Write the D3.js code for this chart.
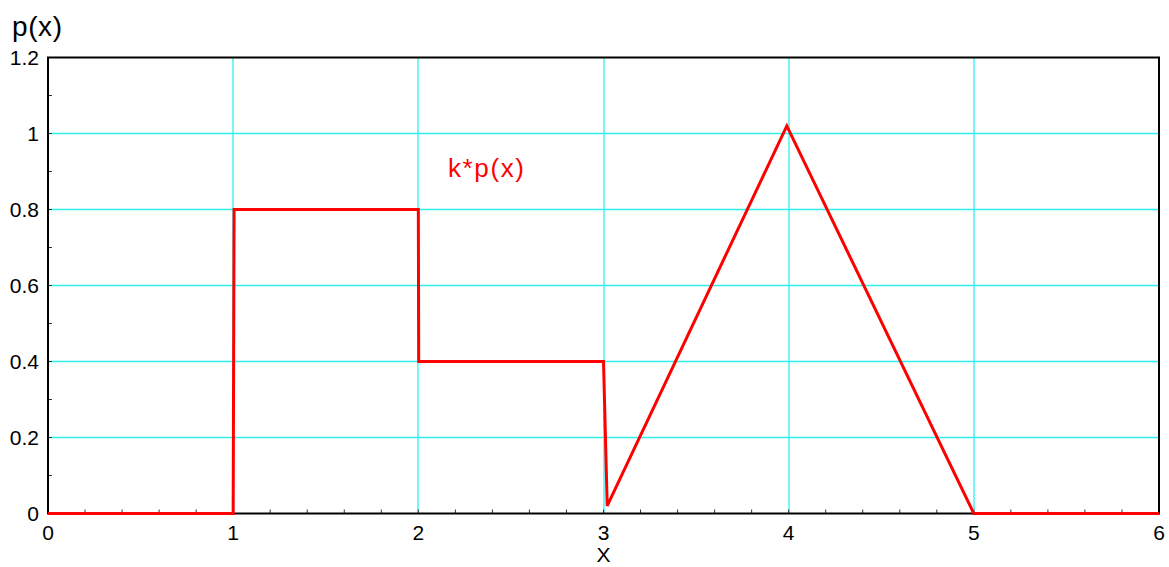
<!DOCTYPE html>
<html>
<head>
<meta charset="utf-8">
<script src="https://cdn.jsdelivr.net/npm/d3@7"></script>
<style>
  body { margin: 0; background: #fff; }
  text { font-family: "Liberation Sans", Arial, sans-serif; }
</style>
</head>
<body>
<div id="chart"></div>
<script>
// data
const xs = [0, 1, 1.005, 2, 2.002, 3, 3.02, 3.99, 5, 6];
const ys = [0, 0, 0.8, 0.8, 0.4, 0.4, 0.02, 1.02, 0, 0];
const xTicks = [0, 1, 2, 3, 4, 5, 6];
const yTicks = [0, 0.2, 0.4, 0.6, 0.8, 1, 1.2];

const W = 1169, H = 567;
const margin = { top: 57.5, right: 10, bottom: 53.5, left: 48 };
const width = W - margin.left - margin.right;
const height = H - margin.top - margin.bottom;

const svg = d3.select("#chart").append("svg")
  .attr("width", W).attr("height", H);
const g = svg.append("g")
  .attr("transform", `translate(${margin.left},${margin.top})`);

const x = d3.scaleLinear().domain([0, 6]).range([0, width]);
const y = d3.scaleLinear().domain([0, 1.2]).range([height, 0]);

const gridColor = "#2ff0f0";

// grid lines
g.append("g").selectAll("line")
  .data(xTicks.slice(1, -1)).join("line")
  .attr("x1", d => Math.round(x(d))).attr("x2", d => Math.round(x(d)))
  .attr("y1", 0).attr("y2", height)
  .attr("stroke", gridColor).attr("stroke-width", 1.3);
g.append("g").selectAll("line")
  .data(yTicks.slice(1, -1)).join("line")
  .attr("y1", d => y(d)).attr("y2", d => y(d))
  .attr("x1", 0).attr("x2", width)
  .attr("stroke", gridColor).attr("stroke-width", 1.6);

// minor + major inward ticks
const xMinor = d3.range(0, 6.001, 0.2);
g.append("g").selectAll("line")
  .data(xMinor).join("line")
  .attr("x1", d => x(d)).attr("x2", d => x(d))
  .attr("y1", height).attr("y2", height - 4)
  .attr("stroke", "#333").attr("stroke-width", 1);
const yMinor = d3.range(0, 1.201, 0.1);
g.append("g").selectAll("line")
  .data(yMinor).join("line")
  .attr("y1", d => y(d)).attr("y2", d => y(d))
  .attr("x1", 0).attr("x2", 4)
  .attr("stroke", "#333").attr("stroke-width", 1);

// frame
g.append("rect")
  .attr("width", width).attr("height", height)
  .attr("fill", "none").attr("stroke", "#000").attr("stroke-width", 2);

// tick labels
g.append("g").selectAll("text")
  .data(xTicks).join("text")
  .attr("x", d => x(d)).attr("y", height + 26)
  .attr("text-anchor", "middle")
  .style("font-size", "21px")
  .text(d => d);
g.append("g").selectAll("text")
  .data(yTicks).join("text")
  .attr("x", -9).attr("y", d => y(d) + 7.5)
  .attr("text-anchor", "end")
  .style("font-size", "21px")
  .text(d => d);

// the curve
const line = d3.line().x((d, i) => x(xs[i])).y(d => y(d));
g.append("path")
  .datum(ys)
  .attr("fill", "none")
  .attr("stroke", "#ff0000")
  .attr("stroke-width", 3)
  .attr("stroke-linejoin", "miter")
  .attr("d", line);

// labels
svg.append("text")
  .attr("x", 448).attr("y", 177)
  .attr("fill", "#ff0000")
  .attr("textLength", 76)
  .style("font-size", "26px")
  .text("k*p(x)");
svg.append("text")
  .attr("x", 12).attr("y", 36)
  .attr("textLength", 50)
  .style("font-size", "28px")
  .text("p(x)");
svg.append("text")
  .attr("x", margin.left + x(3)).attr("y", 562)
  .attr("text-anchor", "middle")
  .style("font-size", "21px")
  .text("X");
</script>
</body>
</html>
